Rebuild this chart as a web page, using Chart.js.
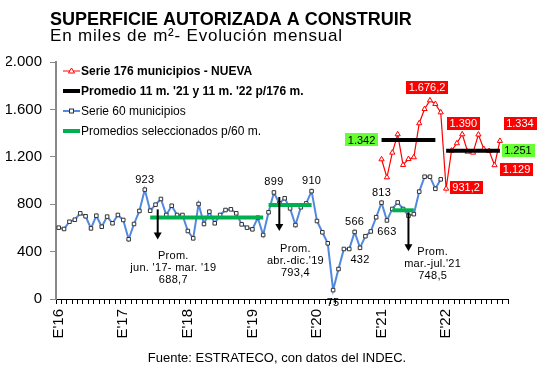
<!DOCTYPE html>
<html>
<head>
<meta charset="utf-8">
<script src="https://cdn.jsdelivr.net/npm/chart.js@4.4.0/dist/chart.umd.min.js"></script>
<style>
body { margin: 0; background: #fff; }
#wrap { width: 555px; height: 371px; }
</style>
</head>
<body>
<div id="wrap"><canvas id="chart" width="555" height="371"></canvas></div>
<script>
// meses ene-2016 a dic-2022
const years = ['16', '17', '18', '19', '20', '21', '22'];
const months = ['ene', 'feb', 'mar', 'abr', 'may', 'jun', 'jul', 'ago', 'sep', 'oct', 'nov', 'dic'];

// Serie 60 municipios, ene-16 a dic-21 (miles de m2)
const serie60 = [
  602, 591, 652, 669, 723, 698, 596, 703, 610, 695, 639, 709,
  667, 504, 633, 743, 923, 745, 796, 844, 709, 787, 709, 709,
  574, 512, 802, 633, 737, 639, 709, 751, 757, 723, 630, 602,
  588, 686, 540, 732, 899, 807, 850, 765, 624, 774, 807, 910,
  658, 563, 470, 75, 253, 422, 422, 566, 432, 530, 570, 690,
  813, 663, 760, 815, 760, 703, 716, 906, 1032, 1032, 930, 1010
];
// Serie 176 municipios - NUEVA, ene-21 a nov-22
const serie176 = [
  1179, 1027, 1235, 1390, 1131, 1181, 1196, 1483, 1603, 1676.2, 1646, 1575,
  931.2, 1252, 1314, 1390, 1243, 1235, 1388, 1266, 1249, 1129, 1334
];
const start176 = 60;

// promedios (valor y tramo en indices de mes)
const avg176 = [1342, 1251];
const avg176From = [60, 72];
const avg176To = [70, 82];
const avg60 = [688.7, 793.4, 748.5];
const avg60From = [17, 39, 62];
const avg60To = [38, 47, 66];
const avg60Text = ["jun. '17- mar. '19", "abr.-dic.'19", "mar.-jul.'21"];

const yTicks = [0, 400, 800, 1200, 1600, 2000];

const RED = '#ff0000';
const BLUE = '#5089de';
const GREEN = '#00b050';
const LIME = '#66ff33';
const FONT = '"Liberation Sans", Arial, sans-serif';

const labels = years.flatMap(y => months.map(m => m + "'" + y));
const n = labels.length;

const red = new Array(n).fill(null);
serie176.forEach((v, k) => { red[start176 + k] = v; });
const blue = new Array(n).fill(null);
serie60.forEach((v, k) => { blue[k] = v; });
const black = new Array(n).fill(null);
avg176.forEach((v, k) => { for (let i = avg176From[k]; i <= avg176To[k]; i++) black[i] = v; });
const green = new Array(n).fill(null);
avg60.forEach((v, k) => { for (let i = avg60From[k]; i <= avg60To[k]; i++) green[i] = v; });

function fmt(v) {
  const parts = String(v).split('.');
  const ent = parts[0].replace(/\B(?=(\d{3})+(?!\d))/g, '.');
  return parts[1] ? ent + ',' + parts[1] : ent;
}

// etiquetas de valores sobre la serie 60
const notes60 = [
  { i: 16, dy: -10 }, { i: 40, dy: -10 }, { i: 47, dy: -10 }, { i: 55, dy: -10 },
  { i: 56, dy: 12 }, { i: 51, dy: 13 }, { i: 60, dy: -10 }, { i: 61, dy: 12 }
];
// recuadros rojos sobre la serie 176
const notes176 = [
  { i: 69, dx: -3, dy: -13 }, { i: 75, dx: 1, dy: -11 }, { i: 82, dx: 20, dy: -17 },
  { i: 72, dx: 20, dy: -1 }, { i: 81, dx: 22, dy: 4 }
];
// flechas y textos de promedios seleccionados
const arrows60 = [
  { x: 18.4, top: -8, len: 30, tx: 21.3, ty: 39 },
  { x: 41, top: -8, len: 34, tx: 44, ty: 44 },
  { x: 65, top: 2, len: 39, tx: 69.5, ty: 42 }
];

const annotate = {
  id: 'annotate',
  beforeDraw(chart) {
    const c = chart.ctx;
    c.save();
    c.fillStyle = '#fff';
    c.fillRect(0, 0, chart.width, chart.height);
    c.restore();
  },
  afterDatasetsDraw(chart) {
    const c = chart.ctx;
    const xs = chart.scales.x, ys = chart.scales.y;
    const ca = chart.chartArea;
    c.save();

    // textos de valores
    c.fillStyle = '#000';
    c.font = '11px ' + FONT;
    c.textAlign = 'center';
    c.textBaseline = 'middle';
    c.letterSpacing = '0.3px';
    notes60.forEach(a => {
      c.fillText(fmt(serie60[a.i]), xs.getPixelForValue(a.i), ys.getPixelForValue(serie60[a.i]) + a.dy);
    });

    // flechas + textos de promedios
    arrows60.forEach((a, k) => {
      const x = xs.getPixelForValue(a.x);
      const yv = ys.getPixelForValue(avg60[k]);
      const y0 = yv + a.top, y1 = y0 + a.len;
      c.strokeStyle = '#000';
      c.lineWidth = 2;
      c.beginPath(); c.moveTo(x, y0); c.lineTo(x, y1 - 6); c.stroke();
      c.fillStyle = '#000';
      c.beginPath(); c.moveTo(x - 4, y1 - 7); c.lineTo(x + 4, y1 - 7); c.lineTo(x, y1); c.closePath(); c.fill();
      const tx = xs.getPixelForValue(a.tx);
      const ty = yv + a.ty;
      c.font = '11px ' + FONT;
      c.fillText('Prom.', tx, ty);
      c.fillText(avg60Text[k], tx, ty + 12);
      c.fillText(fmt(avg60[k]), tx, ty + 24);
    });

    c.letterSpacing = '0px';
    function box(text, cx, cy, bg, fg) {
      c.font = '11px ' + FONT;
      const w = c.measureText(text).width + 5;
      const h = 13;
      c.fillStyle = bg;
      c.fillRect(Math.round(cx - w / 2), Math.round(cy - h / 2), Math.round(w), h);
      c.fillStyle = fg;
      c.fillText(text, cx, cy + 0.5);
    }
    notes176.forEach(a => {
      const v = red[a.i];
      box(fmt(v), xs.getPixelForValue(a.i) + a.dx, ys.getPixelForValue(v) + a.dy, RED, '#fff');
    });
    box(fmt(avg176[0]), xs.getPixelForValue(avg176From[0]) - 20, ys.getPixelForValue(avg176[0]), LIME, '#000');
    box(fmt(avg176[1]), xs.getPixelForValue(avg176To[1]) + 18, ys.getPixelForValue(avg176[1]), LIME, '#000');

    // leyenda
    const items = [
      { t: 'Serie 176 municipios - NUEVA', bold: true, color: RED, w: 1, mark: 'tri' },
      { t: "Promedio 11 m. '21 y 11 m. '22 p/176 m.", bold: true, color: '#000', w: 4 },
      { t: 'Serie 60 municipios', bold: false, color: BLUE, w: 2, mark: 'sq' },
      { t: 'Promedios seleccionados p/60 m.', bold: false, color: GREEN, w: 4 }
    ];
    items.forEach((it, k) => {
      const y = ca.top + 9 + k * 20;
      const x0 = ca.left + 7, x1 = ca.left + 24;
      c.strokeStyle = it.color;
      c.lineWidth = it.w;
      c.beginPath(); c.moveTo(x0, y); c.lineTo(x1, y); c.stroke();
      const mx = (x0 + x1) / 2;
      c.lineWidth = 1;
      if (it.mark === 'tri') {
        c.fillStyle = '#fff';
        c.beginPath(); c.moveTo(mx, y - 3); c.lineTo(mx + 3, y + 2); c.lineTo(mx - 3, y + 2); c.closePath();
        c.fill(); c.stroke();
      } else if (it.mark === 'sq') {
        c.fillStyle = '#fff';
        c.strokeStyle = '#333';
        c.fillRect(mx - 2, y - 2, 4, 4);
        c.strokeRect(mx - 2, y - 2, 4, 4);
      }
      c.fillStyle = '#000';
      c.textAlign = 'left';
      c.font = (it.bold ? 'bold ' : '') + '12px ' + FONT;
      c.fillText(it.t, x1 + 1, y + 1);
    });

    c.restore();
  },
  afterDraw(chart) {
    const c = chart.ctx;
    c.save();
    c.fillStyle = '#000';
    c.textBaseline = 'alphabetic';
    c.textAlign = 'left';
    c.font = 'bold 18px ' + FONT;
    c.fillText('SUPERFICIE AUTORIZADA A CONSTRUIR', 50, 25);
    c.font = '17px ' + FONT;
    c.letterSpacing = '0.8px';
    c.fillText('En miles de m\u00b2- Evolución mensual', 50, 41);
    c.letterSpacing = '0px';
    c.textAlign = 'center';
    c.font = '13px ' + FONT;
    c.fillText('Fuente: ESTRATECO, con datos del INDEC.', 277, 362);
    c.restore();
  }
};

new Chart(document.getElementById('chart').getContext('2d'), {
  type: 'line',
  data: {
    labels: labels,
    datasets: [
      {
        label: 'Serie 176 municipios - NUEVA',
        data: red,
        borderColor: RED,
        borderWidth: 1.2,
        pointStyle: 'triangle',
        pointRadius: 3,
        pointBorderWidth: 1,
        pointBorderColor: RED,
        pointBackgroundColor: '#fff',
        order: 4
      },
      {
        label: "Promedio 11 m. '21 y 11 m. '22 p/176 m.",
        data: black,
        borderColor: '#000',
        borderWidth: 4,
        pointRadius: 0,
        order: 3
      },
      {
        label: 'Serie 60 municipios',
        data: blue,
        borderColor: BLUE,
        borderWidth: 2,
        pointStyle: 'rect',
        pointRadius: 2.5,
        pointBorderWidth: 1,
        pointBorderColor: '#333',
        pointBackgroundColor: '#fff',
        order: 2
      },
      {
        label: 'Promedios seleccionados p/60 m.',
        data: green,
        borderWidth: 4,
        pointRadius: 0,
        segment: {
          borderColor: ctx => ctx.p0.parsed.y === ctx.p1.parsed.y ? GREEN : 'rgba(0,0,0,0)'
        },
        borderColor: GREEN,
        order: 1
      }
    ]
  },
  options: {
    responsive: false,
    animation: false,
    layout: { padding: { top: 62, left: 6, right: 47, bottom: 0 } },
    plugins: {
      legend: { display: false },
      tooltip: { enabled: false }
    },
    scales: {
      x: {
        offset: true,
        afterFit(scale) { scale.height = 72; },
        grid: { drawOnChartArea: false, drawTicks: true, tickLength: 5, color: '#000', offset: true },
        border: { color: '#000', width: 1 },
        ticks: {
          autoSkip: false,
          minRotation: 90,
          maxRotation: 90,
          padding: 5,
          color: '#000',
          font: { family: FONT, size: 15 },
          callback: (v, i) => i % 12 === 0 ? "E'" + years[i / 12] : ''
        }
      },
      y: {
        min: yTicks[0],
        max: yTicks[yTicks.length - 1],
        afterFit(scale) { scale.width = 50; },
        afterBuildTicks(scale) { scale.ticks = yTicks.map(v => ({ value: v })); },
        grid: { drawOnChartArea: false, drawTicks: true, tickLength: 6, color: '#888' },
        border: { color: '#888', width: 2 },
        ticks: {
          padding: 8,
          color: '#000',
          font: { family: FONT, size: 15 },
          callback: v => fmt(v)
        }
      }
    }
  },
  plugins: [annotate]
});
</script>
</body>
</html>
